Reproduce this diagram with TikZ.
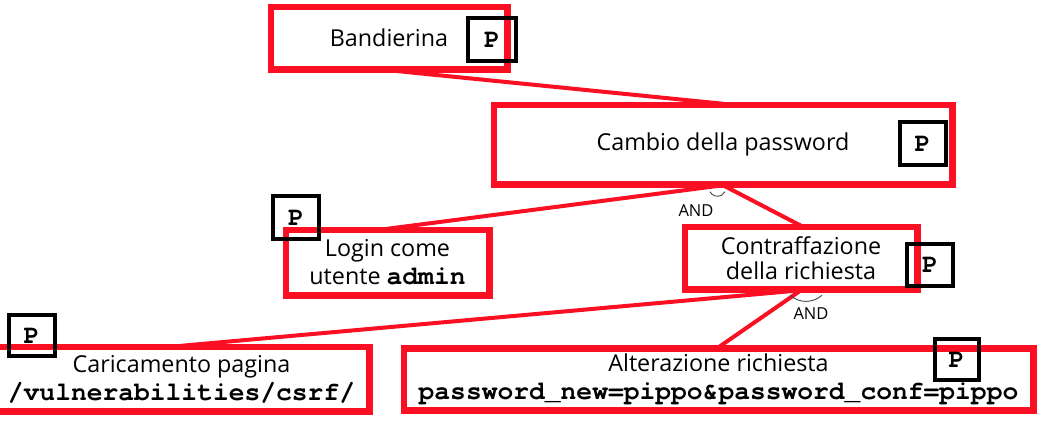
\documentclass[tikz,border=0pt]{standalone}
\usepackage{fontspec}
\setmainfont{Open Sans}
\newfontfamily\monof{texgyrecursor-bold}[Extension=.otf]
\newcommand\mtt[1]{{\monof\fontsize{26.3}{28}\selectfont #1}}
\usetikzlibrary{calc}
\definecolor{tred}{RGB}{250,15,35}
\definecolor{arcgray}{RGB}{70,70,70}
\begin{document}
\begin{tikzpicture}[x=1pt,y=-1pt,
  rbox/.style={draw=tred,line width=4.5pt,fill=white,inner sep=0pt,align=center,
    font=\fontsize{23.3}{28}\selectfont},
  pbox/.style={draw=black,line width=4pt,inner sep=0pt,minimum width=46pt,minimum height=43pt,
    font=\monof\fontsize{26.3}{26}\selectfont},
  conn/.style={draw=tred,line width=4pt},
  andarc/.style={draw=arcgray,line width=0.9pt},
  andlbl/.style={inner sep=0pt,font=\fontsize{16.5}{16.5}\selectfont}]
\useasboundingbox (0,0) rectangle (1047,432);
% boxes
\node[rbox,minimum width=234pt,minimum height=60pt] (band) at (389,38) {Bandierina};
\node[rbox,minimum width=456pt,minimum height=77pt] (cambio) at (723,144.5) {Cambio della password};
\node[rbox,minimum width=201pt,minimum height=63pt] (login) at (387.5,262.5) {Login come\\utente \mtt{admin}};
\node[rbox,minimum width=230pt,minimum height=60pt,font=\fontsize{23.3}{25}\selectfont] (contr) at (801,258) {Contraffazione\\della richiesta};
\node[rbox,minimum width=373pt,minimum height=62pt] (caric) at (181.5,379) {Caricamento pagina\\\mtt{/vulnerabilities/csrf/}};
\node[rbox,minimum width=627pt,minimum height=60pt] (alter) at (718.5,379.5) {Alterazione richiesta\\\mtt{password\_new=pippo\&password\_conf=pippo}};
% connectors
\draw[conn] (band.south) -- (cambio.north);
\draw[conn] (cambio.south) -- (login.north);
\draw[conn] (cambio.south) -- (contr.north);
\draw[conn] (contr.south) -- (caric.north);
\draw[conn] (contr.south) -- (alter.north);
% redraw box borders over connector ends
\foreach \n in {band,cambio,login,contr,caric,alter}{
  \draw[tred,line width=4.5pt] (\n.north west) rectangle (\n.south east);
}
% AND arcs
\draw[andarc] ($(cambio.south)+(-13,6.5)$) arc[start angle=152,end angle=28,radius=8.5];
\node[andlbl] (and1) at (696,211) {AND};
\draw[andarc] ($(contr.south)+(-11,5)$) arc[start angle=131.8,end angle=48.2,radius=24];
\node[andlbl] (and2) at (811,314) {AND};
% P boxes
\node[pbox,minimum width=48pt] (pb1) at (492,39.5) {P};
\node[pbox] (pb2) at (922.5,143.5) {P};
\node[pbox] (pb3) at (296,217.5) {P};
\node[pbox,minimum height=42pt] (pb4) at (930,265) {P};
\node[pbox,minimum height=41pt] (pb5) at (31.5,335.5) {P};
\node[pbox,minimum width=44pt,minimum height=41pt] (pb6) at (956.5,359.5) {P};
\end{tikzpicture}
\end{document}
